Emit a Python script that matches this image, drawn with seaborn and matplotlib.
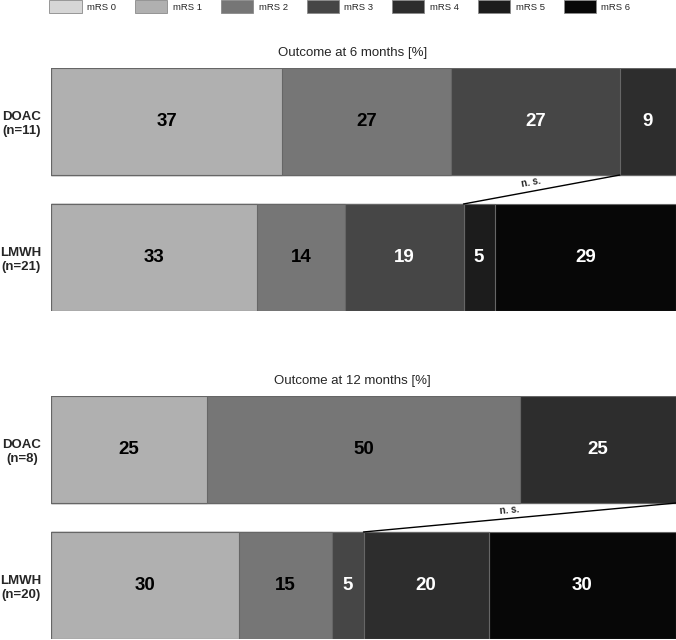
import numpy as np
import pandas as pd
import matplotlib
matplotlib.use("Agg")
import matplotlib.pyplot as plt
from matplotlib.patches import Patch
import seaborn as sns

# data
categories = ["mRS 0", "mRS 1", "mRS 2", "mRS 3", "mRS 4", "mRS 5", "mRS 6"]
colors = ["#d6d6d6", "#b0b0b0", "#767676", "#464646", "#2d2d2d", "#1c1c1c", "#070707"]

groups_6m = ["DOAC\n(n=11)", "LMWH\n(n=21)"]
doac_6m = [0, 37, 27, 27, 9, 0, 0]
lmwh_6m = [0, 33, 14, 19, 0, 5, 29]

groups_12m = ["DOAC\n(n=8)", "LMWH\n(n=20)"]
doac_12m = [0, 25, 50, 0, 25, 0, 0]
lmwh_12m = [0, 30, 15, 5, 20, 0, 30]

# n.s. connector: last category included in the cumulative sum (DOAC, LMWH)
ns_6m = (3, 3)
ns_12m = (6, 3)

sns.set_style("white")
plt.rcParams["font.family"] = ["Liberation Sans", "DejaVu Sans"]

BAR_W = 0.787


def stacked_panel(ax, groups, doac, lmwh, ns, title):
    df = pd.DataFrame({"group": np.repeat(groups, len(categories)),
                       "cat": categories * 2,
                       "val": doac + lmwh})
    df["cum"] = df.groupby("group", sort=False)["val"].cumsum()

    # draw cumulative bars back to front -> stacked look
    for k in range(len(categories) - 1, -1, -1):
        sub = df[df["cat"] == categories[k]]
        sns.barplot(data=sub, x="cum", y="group", orient="h", order=groups,
                    color=colors[k], saturation=1, width=BAR_W,
                    edgecolor="#666666", linewidth=0.8, ax=ax, errorbar=None)

    for i, g in enumerate(groups):
        sub = df[df["group"] == g]
        for k, (v, c) in enumerate(zip(sub["val"], sub["cum"])):
            if v == 0:
                continue
            ax.text(c - v / 2, i, f"{v}", ha="center", va="center",
                    fontsize=13.5, fontweight="bold",
                    color="white" if k >= 3 else "black")

    ax.set_xlim(0, 100)
    ax.set_ylim(1 + BAR_W / 2, -BAR_W / 2)
    ax.set_xticks([])
    ax.set_xlabel("")
    ax.set_ylabel("")
    ax.tick_params(axis="y", length=0, pad=7)
    for lab in ax.get_yticklabels():
        lab.set_fontweight("bold")
        lab.set_fontsize(9.5)
        lab.set_multialignment("center")
    sns.despine(ax=ax, left=True, bottom=True)

    # n.s. connector line
    cum_d = np.cumsum(doac)[ns[0]]
    cum_l = np.cumsum(lmwh)[ns[1]]
    y0, y1 = BAR_W / 2, 1 - BAR_W / 2
    ax.plot([cum_d, cum_l], [y0, y1], color="black", lw=1, clip_on=False)
    p0 = ax.transData.transform((cum_d, y0))
    p1 = ax.transData.transform((cum_l, y1))
    ang = np.degrees(np.arctan2(p0[1] - p1[1], p0[0] - p1[0]))
    ax.annotate("n. s.", ((cum_d + cum_l) / 2 - 1.5, (y0 + y1) / 2),
                xytext=(0, 1.5), textcoords="offset points",
                rotation=ang, rotation_mode="anchor",
                ha="center", va="bottom", fontsize=7, fontweight="bold")

    pos = ax.get_position()
    ax.figure.text(0.521, pos.y1 + 15 / 640, title, ha="center",
                   va="center", fontsize=9.5)


fig = plt.figure(figsize=(6.76, 6.4), dpi=100)
ax1 = fig.add_axes([51 / 676, 1 - 311 / 640, 625 / 676, 243 / 640])
ax2 = fig.add_axes([51 / 676, 1 - 639 / 640, 625 / 676, 243 / 640])

stacked_panel(ax1, groups_6m, doac_6m, lmwh_6m, ns_6m, "Outcome at 6 months [%]")
stacked_panel(ax2, groups_12m, doac_12m, lmwh_12m, ns_12m, "Outcome at 12 months [%]")

handles = [Patch(facecolor=c, edgecolor="#8a8a8a", linewidth=0.6, label=l)
           for c, l in zip(colors, categories)]
fig.legend(handles=handles, loc="upper left", bbox_to_anchor=(49 / 676, 1.0),
           ncol=7, frameon=False, fontsize=6.8, handlelength=3.4,
           handleheight=1.7, handletextpad=0.6, columnspacing=2.0,
           borderpad=0.05, borderaxespad=0)

fig.savefig("out.png", dpi=100)
